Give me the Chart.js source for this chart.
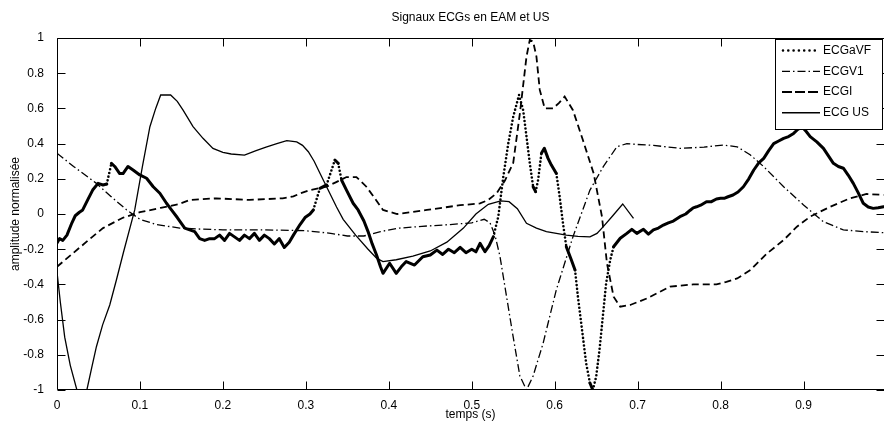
<!DOCTYPE html>
<html><head><meta charset="utf-8">
<script src="https://cdn.jsdelivr.net/npm/chart.js@4.4.1/dist/chart.umd.min.js"></script>
<style>html,body{margin:0;padding:0;background:#fff;}canvas{display:block;}</style>
</head><body>
<canvas id="c" width="884" height="422"></canvas>
<script>
const chartTitle = 'Signaux ECGs en EAM et US';
const xAxisTitle = 'temps (s)';
const yAxisTitle = 'amplitude normalisée';
const seriesNames = ['ECGaVF', 'ECGV1', 'ECGI', 'ECG US'];
const xTickValues = [0, 0.1, 0.2, 0.3, 0.4, 0.5, 0.6, 0.7, 0.8, 0.9];
const xTickLabels = ['0', '0.1', '0.2', '0.3', '0.4', '0.5', '0.6', '0.7', '0.8', '0.9'];
const yTickValues = [-1, -0.8, -0.6, -0.4, -0.2, 0, 0.2, 0.4, 0.6, 0.8, 1];
const yTickLabels = ['-1', '-0.8', '-0.6', '-0.4', '-0.2', '0', '0.2', '0.4', '0.6', '0.8', '1'];

const aVF_t = [0,0.003,0.007,0.012,0.018,0.022,0.027,0.031,0.037,0.043,0.0495,0.0555,0.06,0.0656,0.0696,0.0756,0.0796,0.0856,0.0917,0.0998,0.108,0.116,0.124,0.132,0.138,0.145,0.154,0.16,0.166,0.172,0.178,0.184,0.19,0.196,0.202,0.208,0.214,0.22,0.226,0.232,0.238,0.244,0.25,0.256,0.262,0.268,0.274,0.28,0.285,0.293,0.299,0.305,0.309,0.317,0.325,0.331,0.335,0.339,0.343,0.349,0.357,0.363,0.37,0.375,0.38,0.385,0.39,0.393,0.401,0.409,0.415,0.421,0.431,0.441,0.45,0.458,0.465,0.472,0.479,0.486,0.493,0.5,0.505,0.51,0.516,0.521,0.526,0.532,0.538,0.544,0.55,0.557,0.562,0.566,0.57,0.574,0.577,0.58,0.584,0.5875,0.592,0.596,0.602,0.606,0.61,0.614,0.62,0.6245,0.628,0.633,0.638,0.6425,0.646,0.65,0.654,0.658,0.662,0.667,0.671,0.679,0.687,0.693,0.699,0.707,0.713,0.719,0.725,0.731,0.737,0.743,0.751,0.758,0.763,0.767,0.771,0.776,0.783,0.789,0.795,0.8,0.805,0.809,0.815,0.821,0.8275,0.834,0.84,0.846,0.852,0.858,0.864,0.87,0.876,0.882,0.888,0.893,0.898,0.903,0.908,0.916,0.924,0.93,0.936,0.942,0.948,0.954,0.96,0.966,0.972,0.978,0.984,0.99,0.9965];
const aVF_v = [-0.165,-0.14,-0.15,-0.12,-0.05,-0.01,0.01,0.023,0.08,0.136,0.174,0.165,0.17,0.288,0.27,0.23,0.23,0.27,0.25,0.222,0.203,0.155,0.118,0.061,0.023,-0.02,-0.08,-0.09,-0.1,-0.14,-0.15,-0.14,-0.14,-0.12,-0.15,-0.11,-0.13,-0.15,-0.12,-0.14,-0.11,-0.15,-0.12,-0.14,-0.17,-0.14,-0.19,-0.16,-0.12,-0.06,-0.02,0.0,0.023,0.146,0.165,0.25,0.307,0.288,0.193,0.136,0.061,0.023,-0.04,-0.1,-0.17,-0.23,-0.3,-0.337,-0.28,-0.337,-0.3,-0.27,-0.29,-0.243,-0.233,-0.205,-0.23,-0.2,-0.22,-0.19,-0.22,-0.2,-0.215,-0.167,-0.214,-0.18,-0.13,-0.015,0.21,0.4,0.553,0.676,0.59,0.44,0.288,0.155,0.127,0.193,0.345,0.373,0.316,0.278,0.23,0.098,-0.053,-0.186,-0.26,-0.318,-0.47,-0.66,-0.85,-0.96,-1.0,-0.924,-0.773,-0.584,-0.394,-0.26,-0.186,-0.138,-0.11,-0.087,-0.11,-0.087,-0.114,-0.09,-0.08,-0.063,-0.05,-0.04,-0.015,0.0,0.02,0.035,0.041,0.05,0.07,0.07,0.085,0.089,0.09,0.098,0.108,0.125,0.155,0.2,0.25,0.29,0.316,0.36,0.4,0.415,0.43,0.44,0.458,0.48,0.496,0.47,0.44,0.41,0.373,0.33,0.288,0.27,0.26,0.22,0.174,0.12,0.061,0.04,0.032,0.035,0.041];

const v1_t = [0,0.02,0.0475,0.065,0.084,0.1,0.12,0.148,0.17,0.2,0.25,0.3,0.33,0.35,0.37,0.39,0.413,0.44,0.474,0.5,0.515,0.522,0.528,0.534,0.542,0.55,0.558,0.566,0.574,0.586,0.602,0.622,0.6425,0.6586,0.675,0.687,0.7,0.719,0.751,0.78,0.803,0.82,0.836,0.852,0.876,0.9,0.924,0.948,0.972,0.9965];
const v1_v = [0.345,0.27,0.174,0.1,0.023,-0.03,-0.06,-0.08,-0.085,-0.09,-0.09,-0.095,-0.11,-0.125,-0.125,-0.1,-0.08,-0.07,-0.06,-0.05,-0.03,-0.05,-0.12,-0.24,-0.47,-0.7,-0.92,-1.0,-0.92,-0.735,-0.43,-0.13,0.136,0.269,0.382,0.4,0.395,0.39,0.373,0.38,0.392,0.382,0.335,0.269,0.155,0.051,-0.044,-0.09,-0.1,-0.106];

const ecgI_t = [0,0.02,0.04,0.0555,0.08,0.1,0.125,0.146,0.16,0.192,0.232,0.272,0.285,0.295,0.305,0.325,0.336,0.349,0.361,0.373,0.383,0.393,0.41,0.446,0.486,0.51,0.52,0.53,0.54,0.55,0.558,0.566,0.57,0.574,0.578,0.582,0.588,0.598,0.605,0.612,0.622,0.634,0.647,0.657,0.663,0.671,0.679,0.691,0.711,0.739,0.767,0.795,0.807,0.82,0.836,0.856,0.876,0.892,0.908,0.932,0.956,0.976,0.9965];
const ecgI_v = [-0.3,-0.22,-0.14,-0.08,-0.02,0.01,0.035,0.055,0.08,0.089,0.08,0.089,0.1,0.12,0.136,0.155,0.18,0.21,0.21,0.155,0.09,0.023,0.0,0.023,0.05,0.06,0.08,0.118,0.19,0.29,0.57,0.894,0.99,0.98,0.894,0.705,0.6,0.6,0.63,0.667,0.59,0.42,0.23,-0.015,-0.28,-0.47,-0.527,-0.517,-0.48,-0.413,-0.4,-0.4,-0.385,-0.366,-0.318,-0.224,-0.148,-0.072,-0.015,0.041,0.089,0.114,0.108];

const us_t = [0,0.004,0.0093,0.016,0.024,0.036,0.042,0.0475,0.055,0.0636,0.0716,0.08,0.0937,0.103,0.112,0.119,0.125,0.137,0.145,0.152,0.164,0.176,0.188,0.2,0.21,0.226,0.24,0.252,0.265,0.277,0.289,0.296,0.303,0.31,0.317,0.325,0.337,0.345,0.36,0.375,0.385,0.393,0.409,0.429,0.45,0.47,0.49,0.505,0.52,0.535,0.545,0.555,0.566,0.578,0.59,0.602,0.614,0.628,0.6425,0.651,0.6586,0.67,0.682,0.695];
const us_v = [-0.33,-0.5,-0.7,-0.86,-1.0,-1.0,-0.87,-0.754,-0.63,-0.517,-0.375,-0.22,0.023,0.27,0.496,0.6,0.676,0.676,0.64,0.59,0.496,0.43,0.373,0.35,0.341,0.335,0.36,0.38,0.4,0.417,0.41,0.39,0.354,0.3,0.231,0.155,0.04,-0.03,-0.12,-0.2,-0.25,-0.27,-0.26,-0.24,-0.21,-0.16,-0.08,0.0,0.055,0.075,0.07,0.03,-0.053,-0.08,-0.1,-0.11,-0.12,-0.127,-0.13,-0.11,-0.072,-0.01,0.057,-0.025];

const FONT = '"Liberation Sans", Arial, Helvetica, sans-serif';
Chart.defaults.font.family = FONT;
Chart.defaults.color = '#000';

function pts(t, v) { return t.map((x, i) => ({x: x, y: v[i]})); }
function steep(c) {
  const dx = Math.abs(c.p1.x - c.p0.x), dy = Math.abs(c.p1.y - c.p0.y);
  return dy > 3 * dx && dy > 4;
}

const legendStyles = [
  {w: 2.6, dash: [0, 5.3], cap: 'round'},
  {w: 1.3, dash: [8, 3, 1.5, 3], cap: 'butt'},
  {w: 1.8, dash: [10, 3], cap: 'butt'},
  {w: 1.5, dash: [], cap: 'butt'}
];

const framePlugin = {
  id: 'frame',
  afterDatasetsDraw(chart) {
    const {ctx, chartArea: a, scales: {x, y}} = chart;
    ctx.save();
    ctx.strokeStyle = '#000';
    ctx.lineWidth = 1;
    ctx.setLineDash([]);
    const L = Math.round(a.left) + 0.5, R = Math.round(a.right) + 0.5;
    const T = Math.round(a.top) + 0.5, B = Math.round(a.bottom) - 0.5;
    ctx.beginPath();
    ctx.rect(L, T, R - L, B - T);
    ctx.stroke();
    const tl = 8;
    ctx.beginPath();
    x.ticks.forEach(t => {
      const px = Math.round(x.getPixelForValue(t.value)) + 0.5;
      ctx.moveTo(px, B); ctx.lineTo(px, B - tl);
      ctx.moveTo(px, T); ctx.lineTo(px, T + tl);
    });
    y.ticks.forEach(t => {
      const py = Math.round(y.getPixelForValue(t.value)) + 0.5;
      ctx.moveTo(L, py); ctx.lineTo(L + tl, py);
      ctx.moveTo(R, py); ctx.lineTo(R - tl, py);
    });
    ctx.stroke();

    // legend box
    const bx = 775.5, by = 39.5, bw = 107, bh = 90;
    ctx.fillStyle = '#fff';
    ctx.fillRect(bx, by, bw, bh);
    ctx.strokeRect(bx, by, bw, bh);
    const rowY = [50.5, 71.3, 92, 112.8];
    ctx.font = '12px ' + FONT;
    ctx.textBaseline = 'middle';
    ctx.textAlign = 'left';
    chart.data.datasets.forEach((ds, i) => {
      const st = legendStyles[i];
      ctx.beginPath();
      ctx.lineWidth = st.w;
      ctx.lineCap = st.cap;
      ctx.setLineDash(st.dash);
      ctx.moveTo(i === 0 ? 783 : 782, rowY[i]);
      ctx.lineTo(820, rowY[i]);
      ctx.stroke();
      ctx.setLineDash([]);
      ctx.fillStyle = '#000';
      ctx.fillText(ds.label, 823, rowY[i]);
    });
    ctx.restore();
  }
};

new Chart(document.getElementById('c'), {
  type: 'line',
  data: {
    datasets: [
      {label: seriesNames[0], data: pts(aVF_t, aVF_v), borderColor: '#000', borderWidth: 3,
       borderCapStyle: 'round', borderJoinStyle: 'round', pointRadius: 0, tension: 0,
       segment: {
         borderDash: c => steep(c) ? [0, 3.8] : undefined,
         borderWidth: c => steep(c) ? 2.6 : undefined
       }},
      {label: seriesNames[1], data: pts(v1_t, v1_v), borderColor: '#000', borderWidth: 1.3,
       borderDash: [8, 3, 1.5, 3], pointRadius: 0, tension: 0},
      {label: seriesNames[2], data: pts(ecgI_t, ecgI_v), borderColor: '#000', borderWidth: 1.8,
       borderDash: [7, 4], pointRadius: 0, tension: 0},
      {label: seriesNames[3], data: pts(us_t, us_v), borderColor: '#000', borderWidth: 1.3,
       pointRadius: 0, tension: 0}
    ]
  },
  options: {
    responsive: false,
    animation: false,
    events: [],
    layout: {padding: 0},
    plugins: {
      legend: {display: false},
      tooltip: {enabled: false},
      title: {display: true, text: chartTitle, fullSize: false, color: '#000',
              font: {size: 12, weight: 'normal'}, padding: {top: 10, bottom: 13.6}}
    },
    scales: {
      x: {
        type: 'linear', min: 0, max: 0.997,
        afterFit: s => { s.height = 32; },
        afterBuildTicks: s => { s.ticks = xTickValues.map(v => ({value: v})); },
        grid: {display: false}, border: {display: false},
        ticks: {autoSkip: false, maxRotation: 0, padding: 0, font: {size: 12},
                callback: (v, i) => xTickLabels[i]},
        title: {display: true, text: xAxisTitle, font: {size: 12}, padding: {top: 1, bottom: 0}}
      },
      y: {
        type: 'linear', min: -1, max: 1,
        afterFit: s => { s.width = 57; },
        afterBuildTicks: s => { s.ticks = yTickValues.map(v => ({value: v})); },
        grid: {display: false}, border: {display: false},
        ticks: {padding: 5, font: {size: 12}, callback: (v, i) => yTickLabels[i]},
        title: {display: true, text: yAxisTitle, font: {size: 12}, padding: {top: 8, bottom: 0}}
      }
    }
  },
  plugins: [framePlugin]
});
</script>
</body></html>
